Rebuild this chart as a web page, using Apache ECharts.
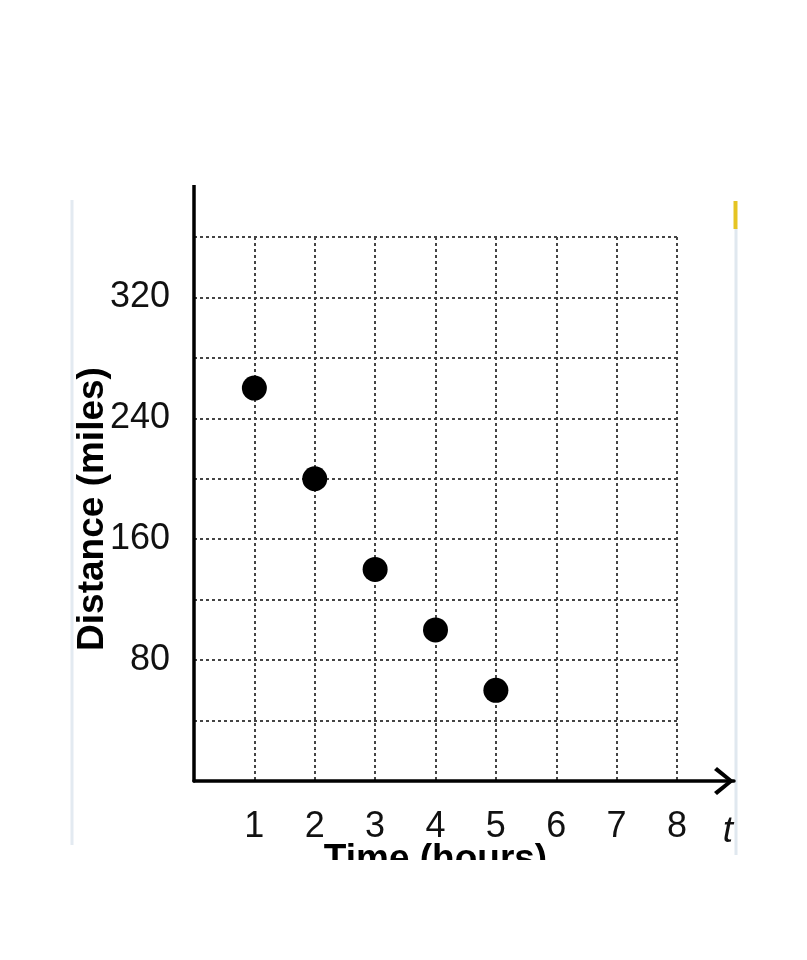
<!DOCTYPE html>
<html>
<head>
<meta charset="utf-8">
<script src="https://cdn.jsdelivr.net/npm/echarts@6/dist/echarts.min.js"></script>
<style>
  html, body { margin: 0; padding: 0; background: #fff; }
  #clip { position: absolute; left: 0; top: 185px; width: 807px; height: 675px; overflow: hidden; }
  #chart { position: absolute; left: 0; top: -185px; width: 807px; height: 960px; }
</style>
</head>
<body>
<div id="clip"><div id="chart"></div></div>
<script>
// Data
const timeHours = [1, 2, 3, 4, 5];
const distanceMiles = [260, 200, 140, 100, 60];
const xTickLabels = [1, 2, 3, 4, 5, 6, 7, 8];
const yTickLabels = [80, 160, 240, 320];

const points = timeHours.map((t, i) => [t, distanceMiles[i]]);
const FONT = '"Liberation Sans", Arial, sans-serif';

const chart = echarts.init(document.getElementById('chart'), null, { renderer: 'canvas' });

const gridLine = { show: true, lineStyle: { color: '#444', width: 2, type: [3, 3] } };

chart.setOption({
  backgroundColor: '#ffffff',
  animation: false,
  grid: [
    { left: 194, right: 130, top: 237, bottom: 179 },
    { left: 194, right: 73, top: 150, bottom: 179 }
  ],
  xAxis: [
    {
      gridIndex: 0, type: 'value', min: 0, max: 8, interval: 1,
      axisLine: { show: false }, axisTick: { show: false },
      splitLine: gridLine,
      axisLabel: {
        margin: 28, fontSize: 36, color: '#111', fontFamily: FONT,
        formatter: v => (xTickLabels.indexOf(v) >= 0 ? String(v) : '')
      },
      name: 'Time (hours)', nameLocation: 'middle', nameGap: 60, nameMoveOverlap: false,
      nameTextStyle: { fontSize: 37, fontWeight: 'bold', color: '#000', fontFamily: FONT }
    },
    {
      gridIndex: 1, type: 'value', min: 0, max: 1,
      axisLine: {
        show: true, onZero: false,
        lineStyle: { color: '#000', width: 3.5 },
        symbol: ['none', 'path://M14,0 L28,17 L25,20 L14,6 L3,20 L0,17 Z'],
        symbolSize: [30, 20], symbolOffset: [0, -10]
      },
      axisTick: { show: false }, axisLabel: { show: false }, splitLine: { show: false },
      name: 't', nameLocation: 'end', nameGap: -6, nameMoveOverlap: false,
      nameTextStyle: { fontSize: 37, fontStyle: 'italic', color: '#111', fontFamily: FONT,
        align: 'center', verticalAlign: 'top', padding: [32, 0, 0, 0] }
    }
  ],
  yAxis: [
    {
      gridIndex: 0, type: 'value', min: 0, max: 360, interval: 40,
      axisLine: { show: false }, axisTick: { show: false },
      splitLine: gridLine,
      axisLabel: {
        margin: 24, fontSize: 36, color: '#111', fontFamily: FONT,
        formatter: v => (yTickLabels.indexOf(v) >= 0 ? String(v) : '')
      },
      name: 'Distance (miles)', nameLocation: 'middle', nameGap: 83, nameMoveOverlap: false,
      nameTextStyle: { fontSize: 37, fontWeight: 'bold', color: '#000', fontFamily: FONT }
    },
    {
      gridIndex: 1, type: 'value', min: 0, max: 1,
      axisLine: { show: true, onZero: false, lineStyle: { color: '#000', width: 3.5 } },
      axisTick: { show: false }, axisLabel: { show: false }, splitLine: { show: false }
    }
  ],
  graphic: [
    { type: 'line', shape: { x1: 72, y1: 200, x2: 72, y2: 845 }, style: { stroke: '#e3eaf1', lineWidth: 3 } },
    { type: 'line', shape: { x1: 736, y1: 228, x2: 736, y2: 855 }, style: { stroke: '#e0e8ef', lineWidth: 3 } },
    { type: 'line', shape: { x1: 735.5, y1: 201, x2: 735.5, y2: 229 }, style: { stroke: '#e5c423', lineWidth: 4 } }
  ],
  series: [
    {
      type: 'scatter', xAxisIndex: 0, yAxisIndex: 0,
      data: points, symbol: 'circle', symbolSize: 25,
      itemStyle: { color: '#000', opacity: 1 }, z: 5
    }
  ]
});
</script>
</body>
</html>
